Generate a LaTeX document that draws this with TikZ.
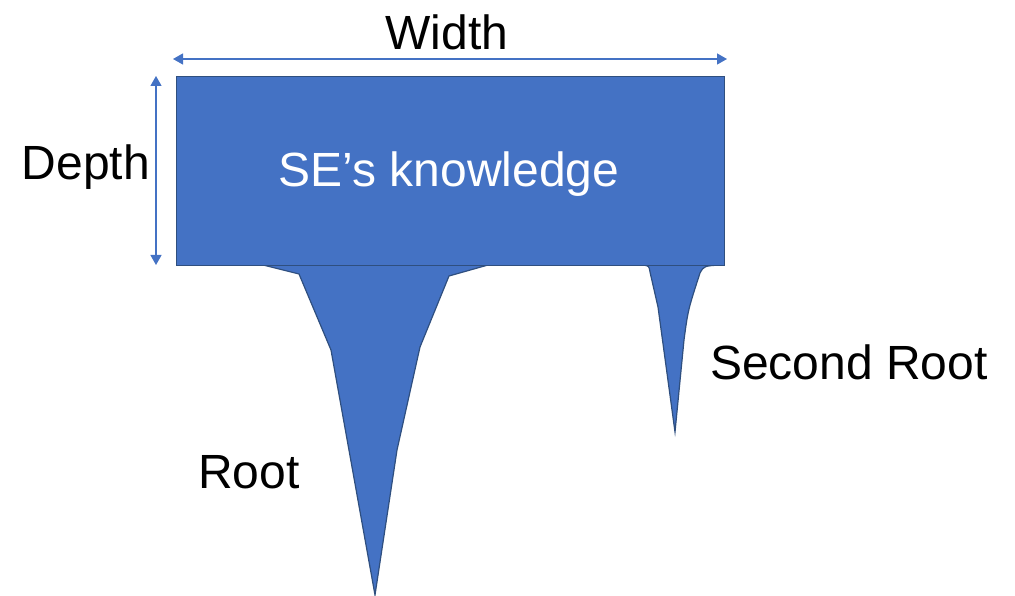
\documentclass[tikz,border=0pt]{standalone}
\usepackage{fontspec}
\setmainfont{Liberation Sans}
\usetikzlibrary{arrows.meta}
\definecolor{fillblue}{HTML}{4472C4}
\definecolor{edgeblue}{HTML}{2F4F7F}
\tikzset{
  shapefill/.style={fill=fillblue, draw=edgeblue, line width=1.2pt, line join=miter},
  dimarrow/.style={draw=fillblue, line width=1.3pt, {Triangle[length=10pt,width=11pt]}-{Triangle[length=10pt,width=11pt]}},
  lbl/.style={font=\fontsize{48}{52}\selectfont, inner sep=0pt},
}
\begin{document}
\begin{tikzpicture}[x=1pt,y=-1pt]
\useasboundingbox (0,0) rectangle (1015,596);
% roots
\path[shapefill] (263,265) -- (299,274) -- (331,350) -- (375,595) -- (397,450) -- (420,347) -- (449,276) -- (488,265) -- cycle;
\path[shapefill] (643,265) .. controls (649,266) .. (650,272) -- (658,307) -- (675,432) -- (684,340) .. controls (688,310) .. (700,273) .. controls (704,266) .. (720,265) -- cycle;
% box
\node[shapefill, minimum width=548pt, minimum height=189pt, anchor=north west, inner sep=0pt] (box) at (176,76) {};
\node[lbl, text=white] (se) at (449,174) {SE’s knowledge};
% dimension arrows
\coordinate (wl) at (173,59);
\coordinate (wr) at (727,59);
\coordinate (dt) at (156,76);
\coordinate (db) at (156,265);
\draw[dimarrow] (wl) -- (wr);
\draw[dimarrow] (dt) -- (db);
\node[lbl] (width) at (447,32) {Width};
\node[lbl] (depth) at (86,167) {Depth};
\node[lbl] (root) at (249,472) {Root};
\node[lbl] (second) at (849,362) {Second Root};
\end{tikzpicture}
\end{document}
